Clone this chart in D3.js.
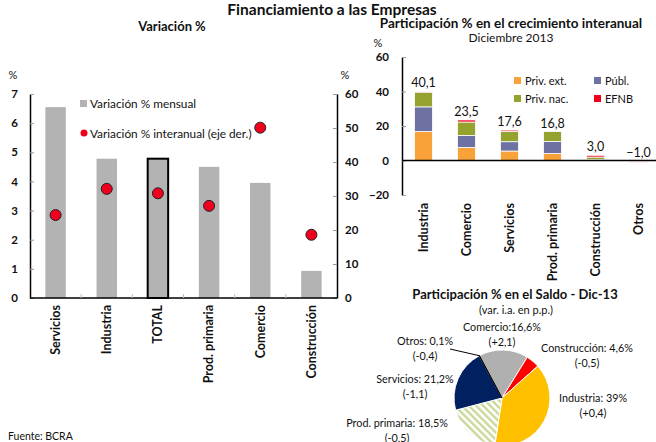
<!DOCTYPE html>
<html>
<head>
<meta charset="utf-8">
<script src="https://cdn.jsdelivr.net/npm/d3@7"></script>
<style>
  html, body { margin: 0; padding: 0; background: #fff; }
  svg text { font-family: Lato, "Open Sans", sans-serif; fill: #111; }
</style>
</head>
<body>
<div id="plot"></div>
<script>
// Left panel: monthly (bars, left axis) and year-on-year (dots, right axis) change
const leftCats = ['Servicios', 'Industria', 'TOTAL', 'Prod. primaria', 'Comercio', 'Construcción'];
const monthlyVar = [6.55, 4.78, 4.78, 4.5, 3.95, 0.93];
const yoyVar = [24.4, 32.1, 30.8, 27.1, 50.1, 18.6];

// Top right: contribution to yoy growth, Dec 2013
const growthCats = ['Industria', 'Comercio', 'Servicios', 'Prod. primaria', 'Construcción', 'Otros'];
const privExt = [16.8, 7.5, 5.5, 4.0, 0.2, -0.2];
const publ = [14.3, 7.0, 5.4, 7.0, 0.4, -0.3];
const privNac = [8.5, 7.8, 5.9, 5.8, 1.4, 0];
const efnb = [0.5, 1.2, 0.8, 0, 1.0, -0.5];
const growthTotal = [40.1, 23.5, 17.6, 16.8, 3.0, -1.0];
const growthSeries = ['Priv. ext.', 'Públ.', 'Priv. nac.', 'EFNB'];

// Bottom right: share of the stock, Dec-13
const pieCats = ['Comercio', 'Construcción', 'Industria', 'Prod. primaria', 'Servicios', 'Otros'];
const pieShare = [16.6, 4.6, 39, 18.5, 21.2, 0.1];
const pieLabel = ['Comercio:16,6%', 'Construcción: 4,6%', 'Industria: 39%', 'Prod. primaria: 18,5%', 'Servicios: 21,2%', 'Otros: 0,1%'];
const pieChange = ['(+2,1)', '(-0,5)', '(+0,4)', '(-0,5)', '(-1,1)', '(-0,4)'];

const W = 656, H = 442;
const svg = d3.select('#plot').append('svg').attr('width', W).attr('height', H);
svg.append('rect').attr('width', W).attr('height', H).attr('fill', '#fff');

const comma = (v) => d3.format('.1f')(v).replace('.', ',');

svg.append('text').attr('x', 332).attr('y', 14.5).attr('text-anchor', 'middle')
  .style('font-size', '15.5px').style('font-weight', 'bold').text('Financiamiento a las Empresas');

// ---------- left panel ----------
const xL = d3.scaleBand().domain(leftCats).range([30, 337]).paddingInner(0.6).paddingOuter(0.3);
const yL = d3.scaleLinear().domain([0, 7]).range([298, 94]);
const yR = d3.scaleLinear().domain([0, 60]).range([298, 94]);

svg.append('text').attr('x', 172).attr('y', 31).attr('text-anchor', 'middle')
  .style('font-size', '13px').style('font-weight', 'bold').text('Variación %');
svg.append('text').attr('x', 13).attr('y', 79).attr('text-anchor', 'middle').style('font-size', '11px').text('%');
svg.append('text').attr('x', 345).attr('y', 79).attr('text-anchor', 'middle').style('font-size', '11px').text('%');

const gl = svg.append('g');
gl.selectAll('rect.bar').data(leftCats).enter().append('rect')
  .attr('x', (d) => xL(d)).attr('width', xL.bandwidth())
  .attr('y', (d, i) => yL(monthlyVar[i])).attr('height', (d, i) => yL(0) - yL(monthlyVar[i]))
  .attr('fill', '#b3b3b3')
  .attr('stroke', (d) => (d === 'TOTAL' ? '#000' : 'none'))
  .attr('stroke-width', 2);

const axL = gl.append('g').attr('transform', 'translate(30,0)')
  .call(d3.axisLeft(yL).ticks(7).tickSizeInner(-4).tickSizeOuter(0).tickPadding(12));
const axR = gl.append('g').attr('transform', 'translate(337,0)')
  .call(d3.axisRight(yR).ticks(6).tickSizeInner(-4).tickSizeOuter(0).tickPadding(8));
[axL, axR].forEach((a) => {
  a.select('.domain').attr('stroke', '#000').attr('stroke-width', 1.5);
  a.selectAll('.tick line').attr('stroke', '#999');
  a.selectAll('.tick text').style('font-size', '11.5px').style('font-weight', 'bold').attr('fill', '#111');
});
gl.append('line').attr('x1', 30).attr('x2', 337).attr('y1', yL(0)).attr('y2', yL(0)).attr('stroke', '#000').attr('stroke-width', 1.5);
gl.selectAll('line.sep').data(leftCats.slice(1)).enter().append('line')
  .attr('x1', (d) => xL(d) - (xL.step() - xL.bandwidth()) / 2)
  .attr('x2', (d) => xL(d) - (xL.step() - xL.bandwidth()) / 2)
  .attr('y1', yL(0)).attr('y2', yL(0) - 4).attr('stroke', '#bbb');

gl.selectAll('circle.dot').data(leftCats).enter().append('circle')
  .attr('cx', (d) => xL(d) + xL.bandwidth() / 2).attr('cy', (d, i) => yR(yoyVar[i]))
  .attr('r', 5.5).attr('fill', '#f0001c').attr('stroke', '#222').attr('stroke-width', 1);

gl.selectAll('text.cat').data(leftCats).enter().append('text')
  .attr('transform', (d) => `translate(${xL(d) + xL.bandwidth() / 2},305) rotate(-90)`)
  .attr('text-anchor', 'end').attr('dy', '0.35em')
  .style('font-size', '12.5px').style('font-weight', 'bold').text((d) => d);

gl.append('rect').attr('x', 80).attr('y', 100).attr('width', 7).attr('height', 7).attr('fill', '#b3b3b3');
gl.append('text').attr('x', 90).attr('y', 108).style('font-size', '11.8px').text('Variación % mensual');
gl.append('circle').attr('cx', 84).attr('cy', 133).attr('r', 3.5).attr('fill', '#f0001c');
gl.append('text').attr('x', 90).attr('y', 137.5).style('font-size', '11.8px').text('Variación % interanual (eje der.)');

svg.append('text').attr('x', 8).attr('y', 440).style('font-size', '10.5px').text('Fuente: BCRA');

// ---------- top right: stacked contributions ----------
const xG = d3.scaleBand().domain(growthCats).range([402, 660]).paddingInner(0.58).paddingOuter(0.29);
const yG = d3.scaleLinear().domain([-20, 60]).range([195, 57]);
const growthColor = d3.scaleOrdinal().domain(growthSeries).range(['#faa23a', '#6d72a3', '#95a32e', '#f0001c']);

const rows = growthCats.map((c, i) => ({
  cat: c, 'Priv. ext.': privExt[i], 'Públ.': publ[i], 'Priv. nac.': privNac[i], EFNB: efnb[i],
}));
const stacked = d3.stack().keys(growthSeries).offset(d3.stackOffsetDiverging)(rows);

svg.append('text').attr('x', 511).attr('y', 28).attr('text-anchor', 'middle')
  .style('font-size', '13.5px').style('font-weight', 'bold').text('Participación % en el crecimiento interanual');
svg.append('text').attr('x', 511).attr('y', 42).attr('text-anchor', 'middle')
  .style('font-size', '12px').text('Diciembre 2013');
svg.append('text').attr('x', 378).attr('y', 47).attr('text-anchor', 'middle').style('font-size', '11px').text('%');

const gg = svg.append('g');
gg.selectAll('g.layer').data(stacked).enter().append('g')
  .attr('fill', (d) => growthColor(d.key))
  .selectAll('rect').data((d) => d).enter().append('rect')
  .attr('x', (d) => xG(d.data.cat)).attr('width', xG.bandwidth())
  .attr('y', (d) => yG(d[1])).attr('height', (d) => Math.max(0, yG(d[0]) - yG(d[1])))
  .attr('stroke', '#fff').attr('stroke-width', 0.8);

const axG = gg.append('g').attr('transform', 'translate(402,0)')
  .call(d3.axisLeft(yG).ticks(4).tickSizeInner(-4).tickSizeOuter(0).tickPadding(13));
axG.select('.domain').attr('stroke', '#000').attr('stroke-width', 1.5);
axG.selectAll('.tick line').attr('stroke', '#999');
axG.selectAll('.tick text').style('font-size', '11.5px').style('font-weight', 'bold').attr('fill', '#111');
gg.append('line').attr('x1', 402).attr('x2', W).attr('y1', yG(0)).attr('y2', yG(0)).attr('stroke', '#000').attr('stroke-width', 1.5);

gg.selectAll('text.total').data(growthCats).enter().append('text')
  .attr('x', (d) => xG(d) + xG.bandwidth() / 2)
  .attr('y', (d, i) => yG(Math.max(0, d3.sum([privExt[i], publ[i], privNac[i], efnb[i]].filter((v) => v > 0)))) - 4)
  .attr('text-anchor', 'middle').style('font-size', '12.5px').text((d, i) => comma(growthTotal[i]));

gg.selectAll('text.gcat').data(growthCats).enter().append('text')
  .attr('transform', (d) => `translate(${xG(d) + xG.bandwidth() / 2},203) rotate(-90)`)
  .attr('text-anchor', 'end').attr('dy', '0.35em')
  .style('font-size', '12.5px').style('font-weight', 'bold').text((d) => d);

const legPos = [[514, 77], [594, 77], [514, 95], [594, 95]];
const leg = gg.selectAll('g.leg').data(growthSeries).enter().append('g')
  .attr('transform', (d, i) => `translate(${legPos[i][0]},${legPos[i][1]})`);
leg.append('rect').attr('width', 7).attr('height', 7).attr('fill', (d) => growthColor(d));
leg.append('text').attr('x', 11).attr('y', 7.5).style('font-size', '11px').text((d) => d);

// ---------- bottom right: pie ----------
const defs = svg.append('defs');
const pat = defs.append('pattern').attr('id', 'hatch').attr('patternUnits', 'userSpaceOnUse')
  .attr('width', 5).attr('height', 5).attr('patternTransform', 'rotate(-45)');
pat.append('rect').attr('width', 5).attr('height', 5).attr('fill', '#fff');
pat.append('rect').attr('width', 2.4).attr('height', 5).attr('fill', '#c9d79a');

const pieColor = d3.scaleOrdinal().domain(pieCats)
  .range(['#b0b0b0', '#ff0000', '#ffc000', 'url(#hatch)', '#002060', '#000']);
const a0 = -28 * Math.PI / 180;
const pie = d3.pie().sort(null).value((d, i) => pieShare[i]).startAngle(a0).endAngle(a0 + 2 * Math.PI);
const arcs = pie(pieCats);
const R = 48;
const arc = d3.arc().innerRadius(0).outerRadius(R);
const cx = 502, cy = 398;

svg.append('text').attr('x', 515).attr('y', 299).attr('text-anchor', 'middle')
  .style('font-size', '13px').style('font-weight', 'bold').text('Participación % en el Saldo - Dic-13');
svg.append('text').attr('x', 516).attr('y', 314).attr('text-anchor', 'middle')
  .style('font-size', '11px').text('(var. i.a. en p.p.)');

const gp = svg.append('g').attr('transform', `translate(${cx},${cy})`);
gp.selectAll('path').data(arcs).enter().append('path')
  .attr('d', arc).attr('fill', (d) => pieColor(d.data))
  .attr('stroke', (d) => (d.data === 'Otros' ? '#000' : '#fff')).attr('stroke-width', 1);

// label anchors relative to the pie centre
const labelOffset = {
  Comercio: [0, -67], 'Construcción': [85, -46], Industria: [91, 4],
  'Prod. primaria': [-105, 29], Servicios: [-87, -15], Otros: [-77, -53],
};
const lab = gp.selectAll('g.plab').data(pieCats).enter().append('g')
  .attr('transform', (d) => `translate(${labelOffset[d][0]},${labelOffset[d][1]})`);
lab.append('text').attr('text-anchor', 'middle').attr('y', 0).style('font-size', '10.8px').text((d, i) => pieLabel[i]);
lab.append('text').attr('text-anchor', 'middle').attr('y', 14.5).style('font-size', '10.8px').text((d, i) => pieChange[i]);

const otros = arcs[pieCats.indexOf('Otros')];
const om = (otros.startAngle + otros.endAngle) / 2;
gp.append('line').attr('x1', -52).attr('y1', -49)
  .attr('x2', Math.sin(om) * R).attr('y2', -Math.cos(om) * R)
  .attr('stroke', '#000').attr('stroke-width', 1);
</script>
</body>
</html>
